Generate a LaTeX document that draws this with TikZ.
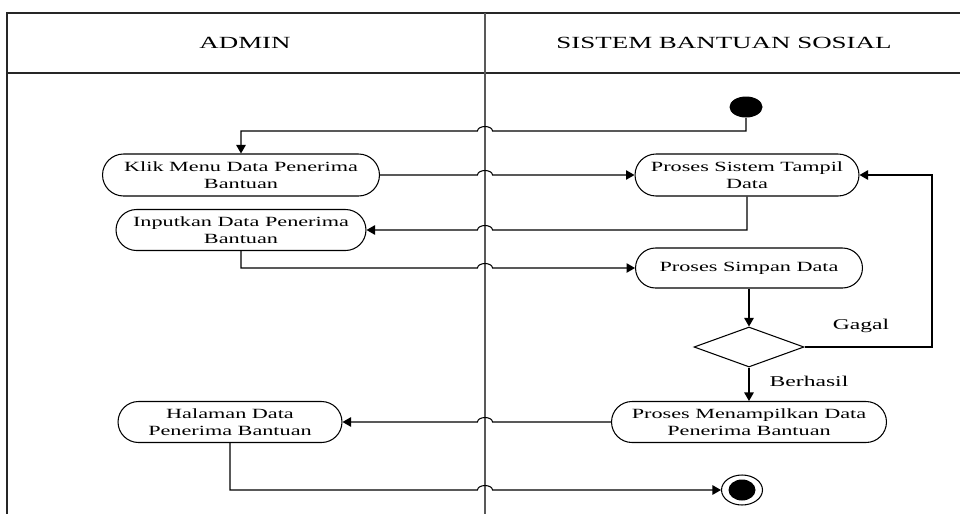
\documentclass[tikz,border=0pt]{standalone}
\usepackage{fontspec}
\setmainfont{Liberation Serif}[FakeStretch=1.58]
\usepackage{tikz}
\usetikzlibrary{arrows.meta, calc, positioning, shapes.geometric, shapes.misc}
\tikzset{
    myact/.style={draw, rounded rectangle, align=center, inner sep=0pt, font=\fontsize{8}{9.6}\selectfont},
    mydecision/.style={draw, diamond, inner sep=0pt, minimum width=2.2cm, minimum height=0.8cm},
    mystart/.style={ellipse, fill=black, inner sep=0pt, minimum width=0.66cm, minimum height=0.42cm},
    myend/.style={draw, ellipse, fill=white, inner sep=0pt, minimum width=0.82cm, minimum height=0.6cm},
    mylabel/.style={font=\fontsize{8.5}{10}\selectfont},
    myhead/.style={font=\fontsize{9.7}{11}\selectfont},
    myflow/.style={-{Triangle[length=0.17cm,width=0.19cm]}},
    myhop/.style={insert path={arc[start angle=180,end angle=0,x radius=0.15cm,y radius=0.09cm]}},
    myhopback/.style={insert path={arc[start angle=0,end angle=180,x radius=0.15cm,y radius=0.09cm]}}
}

\begin{document}
\begin{tikzpicture}[x=0.02cm, y=-0.02cm, line width=0.6pt]
  \useasboundingbox (0,0) rectangle (960,514);
  \draw[black!85] (960,13) -- (7,13) -- (7,514);
  \draw[black!85] (7,73) -- (960,73);
  \draw[black!65] (485,13) -- (485,514);
  \node[myhead] (admin) at (245,43) {ADMIN};
  \node[myhead] (sistem) at (724,43) {SISTEM BANTUAN SOSIAL};

  \node[mystart] (start) at (746,107) {};
  \node[myact, minimum width=5.54cm, minimum height=0.84cm] (klik) at (241,175) {Klik Menu Data Penerima\\Bantuan};
  \node[myact, minimum width=4.48cm, minimum height=0.84cm] (tampil) at (747,175) {Proses Sistem Tampil\\Data};
  \node[myact, minimum width=5.0cm, minimum height=0.82cm] (input) at (241,230) {Inputkan Data Penerima\\Bantuan};
  \node[myact, minimum width=4.54cm, minimum height=0.8cm] (simpan) at (749,268) {Proses Simpan Data};
  \node[mydecision] (dec) at (749,347) {};
  \node[myact, minimum width=5.5cm, minimum height=0.82cm] (tampilkan) at (749,422) {Proses Menampilkan Data\\Penerima Bantuan};
  \node[myact, minimum width=4.48cm, minimum height=0.82cm] (halaman) at (230,422) {Halaman Data\\Penerima Bantuan};
  \node[myend] (end) at (742,490) {};
  \fill (end.center) ellipse[x radius=0.27cm, y radius=0.21cm];

  \node[mylabel] (gagal) at (861,326) {Gagal};
  \node[mylabel] (berhasil) at (809,381) {Berhasil};

  \draw[myflow] (start.south) -- (746,131) -- (492.5,131) [myhopback] -- (241,131) -- (klik.north);
  \draw[myflow] (klik.east) -- (477.5,175) [myhop] -- (tampil.west);
  \draw[myflow] (tampil.south) -- (747,230) -- (492.5,230) [myhopback] -- (input.east);
  \draw[myflow] (input.south) -- (241,268) -- (477.5,268) [myhop] -- (simpan.west);
  \draw[myflow] (simpan.south) -- (dec.north);
  \draw[myflow] (dec.east) -- (932,347) -- (932,175) -- (tampil.east);
  \draw[myflow] (dec.south) -- (tampilkan.north);
  \draw[myflow] (tampilkan.west) -- (492.5,422) [myhopback] -- (halaman.east);
  \draw[myflow] (halaman.south) -- (230,490) -- (477.5,490) [myhop] -- (end.west);
\end{tikzpicture}
\end{document}
